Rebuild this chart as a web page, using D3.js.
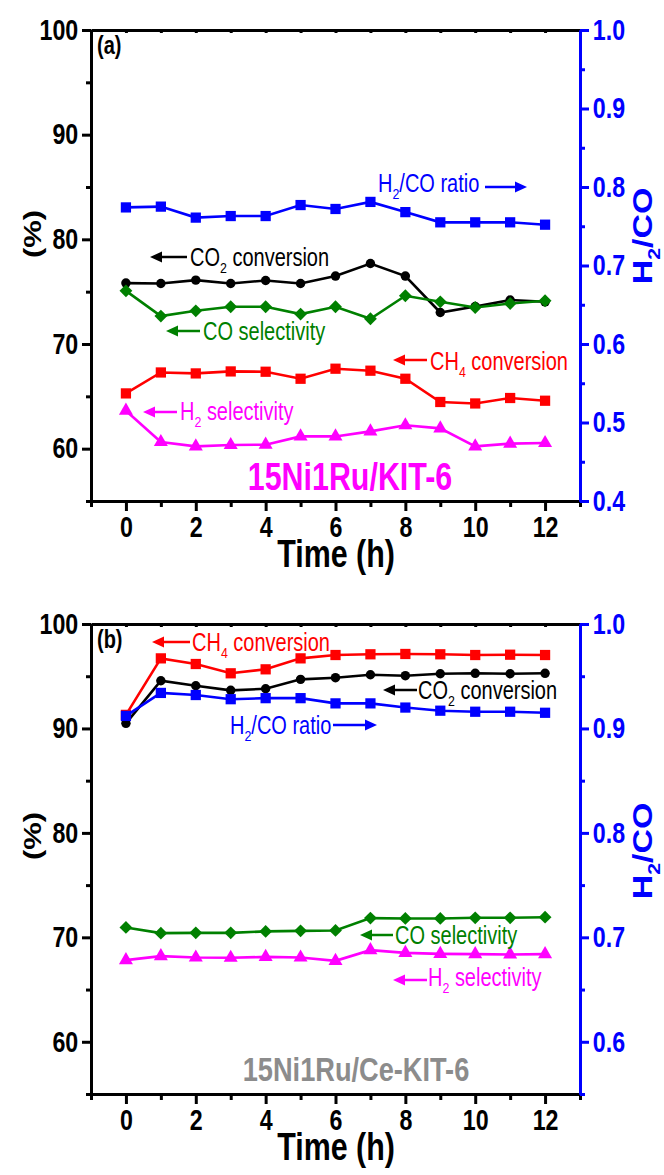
<!DOCTYPE html>
<html>
<head>
<meta charset="utf-8">
<script src="https://cdn.jsdelivr.net/npm/d3@7"></script>
<style>
body { margin: 0; background: #fff; }
svg { display: block; }
text { font-family: "Liberation Sans", Arial, sans-serif; }
</style>
</head>
<body>
<svg id="chart"></svg>
<script>
var screen = {width: 664, height: 1175};
var plot = {left: 91, right: 580};
var SX = 0.8; // the whole figure is squeezed sideways

// ---- data ----
var time = [0, 1, 2, 3, 4, 5, 6, 7, 8, 9, 10, 11, 12];
var xTicks = [0, 2, 4, 6, 8, 10, 12];
var xMinor = [-1, 1, 3, 5, 7, 9, 11, 13];
var leftTicks = [60, 70, 80, 90, 100];
var leftMinor = [55, 65, 75, 85, 95];

// panel (a) 15Ni1Ru/KIT-6
var co2ConvA = [75.82, 75.78, 76.10, 75.78, 76.07, 75.78, 76.49, 77.69, 76.49, 73.01, 73.58, 74.20, 74.03];
var ch4ConvA = [65.28, 67.28, 67.19, 67.38, 67.35, 66.68, 67.64, 67.45, 66.68, 64.46, 64.32, 64.84, 64.58];
var coSelA = [75.08, 72.67, 73.17, 73.56, 73.56, 72.86, 73.56, 72.41, 74.61, 74.03, 73.49, 73.87, 74.13];
var h2SelA = [63.63, 60.64, 60.22, 60.35, 60.38, 61.17, 61.17, 61.65, 62.23, 61.94, 60.22, 60.48, 60.54];
var ratioA = [0.774, 0.775, 0.761, 0.763, 0.763, 0.777, 0.772, 0.781, 0.768, 0.755, 0.755, 0.755, 0.752];
var rightTicksA = [0.4, 0.5, 0.6, 0.7, 0.8, 0.9, 1.0];
var rightMinorA = [0.45, 0.55, 0.65, 0.75, 0.85, 0.95];

// panel (b) 15Ni1Ru/Ce-KIT-6
var co2ConvB = [90.49, 94.57, 94.09, 93.65, 93.80, 94.70, 94.86, 95.14, 95.05, 95.24, 95.28, 95.24, 95.28];
var ch4ConvB = [91.30, 96.71, 96.17, 95.28, 95.66, 96.71, 97.03, 97.10, 97.13, 97.10, 97.03, 97.06, 97.03];
var coSelB = [70.95, 70.40, 70.43, 70.43, 70.57, 70.62, 70.66, 71.84, 71.81, 71.81, 71.87, 71.87, 71.93];
var h2SelB = [67.82, 68.20, 68.07, 68.04, 68.13, 68.07, 67.75, 68.77, 68.51, 68.42, 68.39, 68.36, 68.39];
var ratioB = [0.912, 0.934, 0.932, 0.928, 0.929, 0.929, 0.924, 0.924, 0.920, 0.917, 0.916, 0.916, 0.915];
var rightTicksB = [0.6, 0.7, 0.8, 0.9, 1.0];
var rightMinorB = [0.55, 0.65, 0.75, 0.85, 0.95];

var colors = {co2: "#000000", ch4: "#ff0000", coSel: "#008000", h2Sel: "#ff00ff", ratio: "#0000ff"};

var svg = d3.select("#chart")
    .attr("width", screen.width)
    .attr("height", screen.height);

var xScale = d3.scaleLinear().domain([-1, 13]).range([plot.left, plot.right]);

// text squeezed sideways, parts = [[string, isSub], ...]
var narrowText = function(g, x, y, parts, o)
{
    var tf = "translate(" + x + "," + y + ") scale(" + SX + ",1)" + (o.rotate ? " rotate(-90)" : "");
    var t = g.append("text")
        .attr("transform", tf)
        .attr("text-anchor", o.anchor || "start")
        .attr("font-size", o.size)
        .attr("font-weight", o.weight || "normal")
        .attr("fill", o.color);
    var shift = 0;
    parts.forEach(function(p)
    {
        var want = p[1] ? o.size * 0.3 : 0;
        t.append("tspan")
            .attr("dy", want - shift)
            .attr("font-size", p[1] ? o.size * 0.62 : o.size)
            .text(p[0]);
        shift = want;
    });
    return t;
};

var arrow = function(g, xFrom, xTo, y, color)
{
    var dir = xTo > xFrom ? 1 : -1;
    g.append("line")
        .attr("x1", xFrom).attr("x2", xTo - dir * 9)
        .attr("y1", y).attr("y2", y)
        .attr("stroke", color).attr("stroke-width", 2.5);
    g.append("path")
        .attr("d", "M" + xTo + "," + y + "L" + (xTo - dir * 12) + "," + (y - 5.5) + "L" + (xTo - dir * 12) + "," + (y + 5.5) + "Z")
        .attr("fill", color);
};

var styleAxis = function(sel, color)
{
    sel.select(".domain").attr("stroke", color).attr("stroke-width", 3);
    sel.selectAll(".tick line").attr("stroke", color).attr("stroke-width", 3);
    sel.selectAll(".tick text")
        .attr("fill", color)
        .attr("font-size", 29)
        .attr("font-weight", "bold")
        .attr("font-family", "Liberation Sans, Arial, sans-serif")
        .attr("transform", "scale(" + SX + ",1)");
};

var panels = [
    {
        top: 30, bottom: 501, rDomain: [0.4, 1.0], rTicks: rightTicksA, rMinor: rightMinorA,
        letter: "(a)", series: {co2: co2ConvA, ch4: ch4ConvA, coSel: coSelA, h2Sel: h2SelA, ratio: ratioA},
        pctY: 234, ratioY: 236,
        title: "15Ni1Ru/KIT-6", titleColor: "#ff00ff", titleX: 350, titleY: 490, titleSize: 38,
        notes: [
            {text: [["H"], ["2", true], ["/CO ratio"]], x: 378, y: 183, color: colors.ratio, arrow: [485, 527, 187]},
            {text: [["CO"], ["2", true], [" conversion"]], x: 190, y: 257, color: colors.co2, arrow: [187, 150, 257]},
            {text: [["CO selectivity"]], x: 203, y: 331, color: colors.coSel, arrow: [200, 166, 331]},
            {text: [["CH"], ["4", true], [" conversion"]], x: 430, y: 361, color: colors.ch4, arrow: [427, 393, 360]},
            {text: [["H"], ["2", true], [" selectivity"]], x: 180, y: 411, color: colors.h2Sel, arrow: [177, 143, 412]}
        ]
    },
    {
        top: 624, bottom: 1094, rDomain: [0.55, 1.0], rTicks: rightTicksB, rMinor: rightMinorB,
        letter: "(b)", series: {co2: co2ConvB, ch4: ch4ConvB, coSel: coSelB, h2Sel: h2SelB, ratio: ratioB},
        pctY: 836, ratioY: 851,
        title: "15Ni1Ru/Ce-KIT-6", titleColor: "#8c8c8c", titleX: 356, titleY: 1081, titleSize: 34,
        notes: [
            {text: [["CH"], ["4", true], [" conversion"]], x: 192, y: 642, color: colors.ch4, arrow: [190, 152, 642]},
            {text: [["CO"], ["2", true], [" conversion"]], x: 418, y: 690, color: colors.co2, arrow: [417, 383, 690]},
            {text: [["H"], ["2", true], ["/CO ratio"]], x: 230, y: 725, color: colors.ratio, arrow: [333, 377, 725]},
            {text: [["CO selectivity"]], x: 395, y: 935, color: colors.coSel, arrow: [393, 360, 935]},
            {text: [["H"], ["2", true], [" selectivity"]], x: 428, y: 977, color: colors.h2Sel, arrow: [427, 393, 980]}
        ]
    }
];

var markers = {
    co2: {type: d3.symbolCircle, size: 70},
    ch4: {type: d3.symbolSquare, size: 105},
    coSel: {type: d3.symbolDiamond2, size: 105},
    h2Sel: {type: d3.symbolTriangle, size: 85},
    ratio: {type: d3.symbolSquare, size: 105}
};

panels.forEach(function(p)
{
    var g = svg.append("g");
    var yScale = d3.scaleLinear().domain([55, 100]).range([p.bottom, p.top]);
    var rScale = d3.scaleLinear().domain(p.rDomain).range([p.bottom, p.top]);

    // top frame with small inward ticks
    g.append("g")
        .attr("transform", "translate(0," + p.top + ")")
        .call(d3.axisBottom(xScale).tickValues(d3.range(-1, 14)).tickSize(3).tickSizeOuter(0).tickFormat(""))
        .call(styleAxis, "#000");

    // x axis
    g.append("g")
        .attr("transform", "translate(0," + p.bottom + ")")
        .call(d3.axisBottom(xScale).tickValues(xMinor).tickSize(6).tickSizeOuter(0).tickFormat(""))
        .call(styleAxis, "#000");
    g.append("g")
        .attr("transform", "translate(0," + p.bottom + ")")
        .call(d3.axisBottom(xScale).tickValues(xTicks).tickSize(10).tickPadding(5).tickSizeOuter(0))
        .call(styleAxis, "#000");

    // left axis
    g.append("g")
        .attr("transform", "translate(" + plot.left + ",0)")
        .call(d3.axisLeft(yScale).tickValues(leftMinor).tickSize(5).tickSizeOuter(0).tickFormat(""))
        .call(styleAxis, "#000");
    g.append("g")
        .attr("transform", "translate(" + plot.left + ",0)")
        .call(d3.axisLeft(yScale).tickValues(leftTicks).tickSize(9).tickPadding(7).tickSizeOuter(0))
        .call(styleAxis, "#000");

    // right axis
    g.append("g")
        .attr("transform", "translate(" + plot.right + ",0)")
        .call(d3.axisRight(rScale).tickValues(p.rMinor).tickSize(5).tickSizeOuter(0).tickFormat(""))
        .call(styleAxis, colors.ratio);
    g.append("g")
        .attr("transform", "translate(" + plot.right + ",0)")
        .call(d3.axisRight(rScale).tickValues(p.rTicks).tickSize(9).tickPadding(7).tickSizeOuter(0).tickFormat(d3.format(".1f")))
        .call(styleAxis, colors.ratio);

    // axis titles
    narrowText(g, 336, p.bottom + 66, [["Time (h)"]], {size: 38, weight: "bold", color: "#000", anchor: "middle"});
    narrowText(g, 41, p.pctY, [["(%)"]], {size: 31, weight: "bold", color: "#000", anchor: "middle", rotate: true});
    narrowText(g, 652, p.ratioY, [["H"], ["2", true], ["/CO"]], {size: 34, weight: "bold", color: colors.ratio, anchor: "middle", rotate: true});

    narrowText(g, 97, p.top + 24, [[p.letter]], {size: 25, weight: "bold", color: "#000"});

    // series
    ["co2", "ch4", "h2Sel", "coSel", "ratio"].forEach(function(key)
    {
        var values = p.series[key];
        var sc = key === "ratio" ? rScale : yScale;
        var pts = time.map(function(t, i) { return [xScale(t), sc(values[i])]; });
        g.append("path")
            .datum(pts)
            .attr("fill", "none")
            .attr("stroke", colors[key])
            .attr("stroke-width", 2.6)
            .attr("d", d3.line());
        g.selectAll(".m-" + key)
            .data(pts)
            .enter()
            .append("path")
            .attr("class", "m-" + key)
            .attr("transform", function(d) { return "translate(" + d[0] + "," + d[1] + ")"; })
            .attr("d", d3.symbol().type(markers[key].type).size(markers[key].size))
            .attr("fill", colors[key]);
    });

    // annotations
    p.notes.forEach(function(n)
    {
        narrowText(g, n.x, n.y + 8.5, n.text, {size: 25, color: n.color});
        arrow(g, n.arrow[0], n.arrow[1], n.arrow[2], n.color);
    });

    narrowText(g, p.titleX, p.titleY, [[p.title]], {size: p.titleSize, weight: "bold", color: p.titleColor, anchor: "middle"});
});
</script>
</body>
</html>
